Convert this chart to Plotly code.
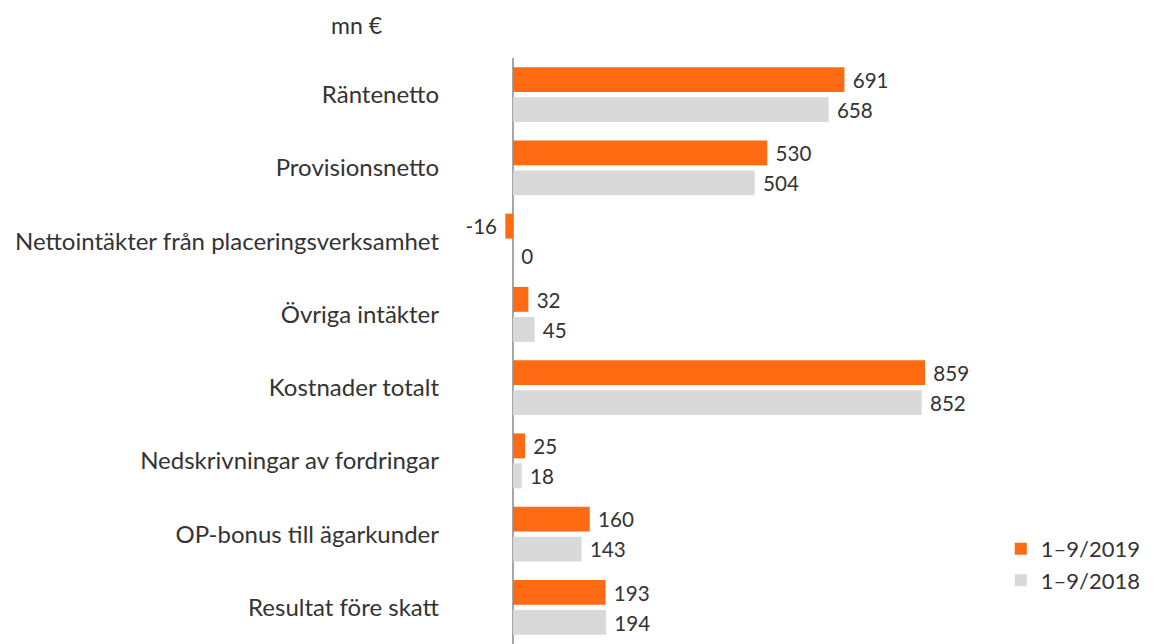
import plotly.graph_objects as go

categories = ["Räntenetto", "Provisionsnetto", "Nettointäkter från placeringsverksamhet",
              "Övriga intäkter", "Kostnader totalt", "Nedskrivningar av fordringar",
              "OP-bonus till ägarkunder", "Resultat före skatt"]
v2019 = [691, 530, -16, 32, 859, 25, 160, 193]
v2018 = [658, 504, 0, 45, 852, 18, 143, 194]
series_names = ["1–9/2019", "1–9/2018"]
unit_label = "mn €"

FONT = "Lato"
TXT = "#333333"
NB = "\u00a0"


def labels(vals):
    return [(str(v) + NB) if v < 0 else (NB + str(v)) for v in vals]


fig = go.Figure()
fig.add_trace(go.Bar(y=categories, x=v2019, orientation="h", name=series_names[0],
                     legendgroup="a",
                     marker=dict(color="#FF6A13", line=dict(width=0)),
                     text=labels(v2019), textposition="outside", cliponaxis=False,
                     textfont=dict(family=FONT, size=24, color=TXT)))
fig.add_trace(go.Bar(y=categories, x=v2018, orientation="h", name=series_names[1],
                     legendgroup="b",
                     marker=dict(color="#D9D9D9", line=dict(width=0)),
                     text=labels(v2018), textposition="outside", cliponaxis=False,
                     textfont=dict(family=FONT, size=24, color=TXT)))

fig.update_layout(
    width=1145, height=636,
    margin=dict(l=437, r=0, t=50, b=0, autoexpand=False),
    paper_bgcolor="white", plot_bgcolor="white",
    barmode="group", bargap=0.18, bargroupgap=0.17,
    font=dict(family=FONT, size=24, color=TXT),
    showlegend=True,
    legend=dict(x=0.785, y=0.198, xanchor="left", yanchor="top",
                font=dict(family=FONT, size=22, color=TXT),
                itemwidth=30, bgcolor="rgba(0,0,0,0)", tracegroupgap=5,
                traceorder="normal"),
    xaxis=dict(range=[-141.8, 1334.4], showgrid=False, showticklabels=False, ticks="",
               zeroline=True, zerolinecolor="#A6A6A6", zerolinewidth=1.5, showline=False),
    yaxis=dict(autorange="reversed", showgrid=False, ticks="", showline=False,
               tickfont=dict(family=FONT, size=24, color=TXT), ticklabelstandoff=5),
    annotations=[dict(text=unit_label, xref="paper", yref="paper", x=-0.1243, y=1.057,
                      xanchor="center", yanchor="middle", showarrow=False,
                      font=dict(family=FONT, size=23, color=TXT))],
)
fig.update_yaxes(automargin=False)

fig.write_html("out.html")
